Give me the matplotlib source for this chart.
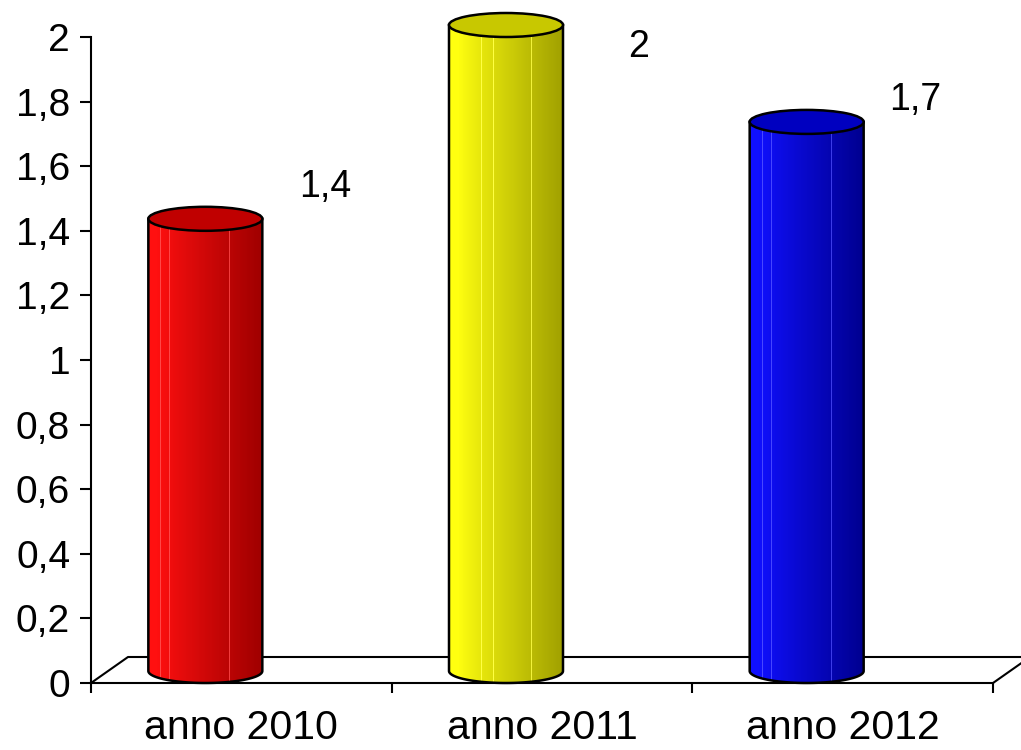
import numpy as np
import matplotlib
matplotlib.use("Agg")
import matplotlib.pyplot as plt
from matplotlib.patches import Polygon, Ellipse
from matplotlib.colors import to_rgb

# ---- data ----
categories = ["anno 2010", "anno 2011", "anno 2012"]
values = [1.4, 2.0, 1.7]
yticks = [0, 0.2, 0.4, 0.6, 0.8, 1.0, 1.2, 1.4, 1.6, 1.8, 2.0]
value_labels = ["1,4", "2", "1,7"]

# ---- styles ----
light_cols = ["#ff1010", "#ffff10", "#1010ff"]
dark_cols = ["#a00000", "#a0a000", "#000090"]
top_cols = ["#c00000", "#c8c800", "#0000c0"]
label_dx = [0.28, 0.32, 0.24]
label_dy = [0.135, -0.03, 0.105]

plt.rcParams['font.family'] = ['Liberation Sans', 'DejaVu Sans']

W, H = 1021, 750
fig = plt.figure(figsize=(W / 100, H / 100), dpi=100)
L, R, T, B = 91, 993, 37, 683
ax = fig.add_axes([L / W, 1 - B / H, (R - L) / W, (B - T) / H])
ax.set_xlim(-0.5, 2.5)
ax.set_ylim(0, 2)

pxx = (R - L) / 3.0   # px per x unit
pxy = (B - T) / 2.0   # px per y unit

# floor depth
dx = 37 / pxx
dy = 26 / pxy

for s in ["top", "right"]:
    ax.spines[s].set_visible(False)
ax.spines["left"].set_linewidth(1.5)
ax.spines["bottom"].set_linewidth(1.5)
ax.spines["left"].set_zorder(1)
ax.spines["bottom"].set_zorder(1)

# floor
ax.plot([-0.5, -0.5 + dx, 2.5 + dx + 0.2], [0, dy, dy], color="black", lw=1.5,
        clip_on=False, zorder=1)
ax.plot([2.5, 2.5 + dx * 1.6], [0, dy * 1.6], color="black", lw=1.5, clip_on=False, zorder=1)

# ticks
ax.set_yticks(yticks)
ax.set_yticklabels([f"{v:g}".replace(".", ",") for v in yticks], fontsize=28)
ax.tick_params(axis="y", direction="out", length=8, width=1.5, pad=7)
ax.set_xticks([-0.5, 0.5, 1.5, 2.5])
ax.set_xticklabels([])
ax.tick_params(axis="x", which="major", direction="out", length=7.5, width=1.5)
ax.set_xticks([0, 1, 2], minor=True)
ax.set_xticklabels(categories, minor=True, fontsize=29.5)
ax.tick_params(axis="x", which="minor", length=0, pad=19)

# cylinders
cx_off = -36 / pxx
rx = 57 / pxx
ry = 12 / pxy
yb = 12 / pxy
nfac = 228
for i, v in enumerate(values):
    cx = i + cx_off
    yt = yb + v
    t = np.linspace(0, np.pi, 80)
    bot = np.column_stack([cx + rx * np.cos(t), yb - ry * np.sin(t)])
    top = np.column_stack([cx - rx * np.cos(t), yt - ry * np.sin(t)])
    side = np.vstack([bot, top])
    poly = Polygon(side, closed=True, facecolor="none", edgecolor="none", zorder=3,
                   clip_on=False)
    ax.add_patch(poly)
    # gradient
    lc = np.array(to_rgb(light_cols[i]))
    dc = np.array(to_rgb(dark_cols[i]))
    u = np.linspace(0, 1, nfac)
    f = np.clip((u - 0.08) / 0.92, 0, 1) ** 0.9
    cols = lc[None, :] * (1 - f[:, None]) + dc[None, :] * f[:, None]
    # facet stripes
    ang = np.arccos(np.clip(1 - 2 * u, -1, 1))
    stripe = (np.abs(np.sin(ang * 14)) < 0.05) & ((u < 0.4) | (u > 0.68))
    cols[stripe] = np.clip(cols[stripe] + 0.22, 0, 1)
    img = cols[None, :, :]
    im = ax.imshow(img, extent=[cx - rx, cx + rx, yb - ry, yt + ry], aspect="auto",
                   interpolation="nearest", zorder=3)
    im.set_clip_box(fig.bbox)
    im.set_clip_path(poly)
    # outline of side
    ax.plot(np.r_[cx - rx, bot[::-1, 0], cx + rx], np.r_[yt, bot[::-1, 1], yt],
            color="black", lw=1.8, zorder=4, solid_joinstyle="round", clip_on=False)
    # top ellipse
    ax.add_patch(Ellipse((cx, yt), 2 * rx, 2 * ry, facecolor=top_cols[i],
                         edgecolor="black", lw=1.8, zorder=5, clip_on=False))
    # label
    ax.text(i + label_dx[i], v + label_dy[i], value_labels[i], fontsize=27,
            ha="center", va="center", zorder=6)

ax.set_xlim(-0.5, 2.5)
ax.set_ylim(0, 2)
fig.savefig("out.png", dpi=100)
